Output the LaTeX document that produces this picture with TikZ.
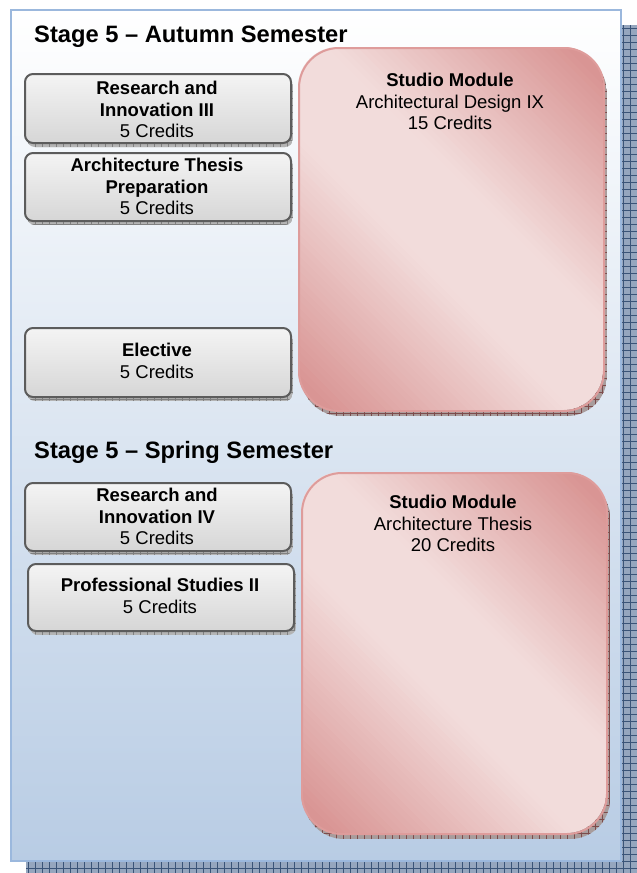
\documentclass[tikz,border=0pt]{standalone}
\usepackage{fontspec}
\setmainfont{Liberation Sans}

\definecolor{panelline}{HTML}{9BB8DD}
\definecolor{panelbot}{HTML}{B8CCE4}
\definecolor{pshadefill}{HTML}{95A6BE}
\definecolor{pshadeline}{HTML}{3A5478}
\definecolor{gtop}{HTML}{F4F4F4}
\definecolor{gbot}{HTML}{D6D6D6}
\definecolor{gline}{HTML}{5C5C5C}
\definecolor{gshadefill}{HTML}{B4B4B4}
\definecolor{gshadeline}{HTML}{808080}
\definecolor{rdark}{HTML}{D99594}
\definecolor{rlight}{HTML}{F2DCDB}
\definecolor{rline}{HTML}{DE9C9B}
\definecolor{rshadefill}{HTML}{A89C9C}
\definecolor{rshadeline}{HTML}{7C4B4B}

% hatched drop shadow: #1-#4 corners, #5 radius, #6 fill, #7 grid colour
\newcommand{\gridshade}[7]{%
  \begin{scope}
    \clip[rounded corners=#5] (#1,#2) rectangle (#3,#4);
    \fill[#6] (#1,#2) rectangle (#3,#4);
    \draw[#7, line width=0.6pt, step=7pt] (#1,#2) grid (#3,#4);
  \end{scope}}

% diagonal rose fill: dark bottom-left and top-right corners, light middle band
\newcommand{\studioshade}[4]{%
  \begin{scope}
    \clip[rounded corners=40pt] (#1,#2) rectangle (#3,#4);
    \pgfmathsetmacro\shS{(#3-#1)+(#4-#2)}
    \foreach \i in {0,...,89}{
      \pgfmathsetmacro\shA{\i/90*\shS - 0.7}
      \pgfmathsetmacro\shB{(\i+1)/90*\shS + 0.7}
      \pgfmathsetmacro\shT{(\i+0.5)/90}
      \pgfmathsetmacro\shU{min(1,max(0,min(\shT,1-\shT)-0.05)/0.36)}
      \pgfmathsetmacro\shP{100*\shU}
      \fill[rlight!\shP!rdark]
        ({#1+\shA-800},{#4-800}) -- ({#1+\shA+800},{#4+800}) --
        ({#1+\shB+800},{#4+800}) -- ({#1+\shB-800},{#4-800}) -- cycle;
    }
  \end{scope}}

\tikzset{
  panel/.style={draw=panelline, line width=2pt, top color=white, bottom color=panelbot},
  stagetitle/.style={font=\fontsize{23.7}{28}\selectfont\bfseries, inner sep=0pt, anchor=base west},
  gbox/.style={draw=gline, line width=2pt, rounded corners=8pt, top color=gtop,
    bottom color=gbot, inner sep=0pt, anchor=north west},
  rbox/.style={draw=rline, line width=2pt, rounded corners=40pt, inner sep=0pt, anchor=north west},
  boxtext/.style={font=\fontsize{18.5}{21.5}\selectfont, align=center, inner sep=0pt, anchor=north},
}

\begin{document}
\begin{tikzpicture}[x=1pt, y=-1pt]
  \useasboundingbox (0,0) rectangle (637,873);

  % background panel with its shadow
  \gridshade{26}{25}{640}{876}{0pt}{pshadefill}{pshadeline}
  \node[panel, inner sep=0pt, minimum width=610pt, minimum height=851pt, anchor=north west] (panel) at (10,9) {};

  \node[stagetitle] (autumn) at (34,42) {Stage 5 – Autumn Semester};
  \node[stagetitle] (spring) at (34,458) {Stage 5 – Spring Semester};

  % shadows of the module boxes
  \gridshade{27}{78}{293}{147}{8pt}{gshadefill}{gshadeline}
  \gridshade{27}{157}{293}{225}{8pt}{gshadefill}{gshadeline}
  \gridshade{27}{332}{293}{401}{8pt}{gshadefill}{gshadeline}
  \gridshade{27}{487}{293}{555}{8pt}{gshadefill}{gshadeline}
  \gridshade{30}{568}{296}{635}{8pt}{gshadefill}{gshadeline}
  \gridshade{301}{53}{607}{416}{40pt}{rshadefill}{rshadeline}
  \gridshade{304}{478}{610}{839}{40pt}{rshadefill}{rshadeline}

  % autumn modules
  \node[gbox, minimum width=266pt, minimum height=69pt] (ri3) at (24,73) {};
  \node[boxtext] (ri3t) at (157,81) {\textbf{Research and}\\\textbf{Innovation III}\\5 Credits};
  \node[gbox, minimum width=266pt, minimum height=68pt] (atp) at (24,152) {};
  \node[boxtext] (atpt) at (157,158) {\textbf{Architecture Thesis}\\\textbf{Preparation}\\5 Credits};
  \node[gbox, minimum width=266pt, minimum height=69pt] (elec) at (24,327) {};
  \node[boxtext] (elect) at (157,343) {\textbf{Elective}\\5 Credits};
  \studioshade{298}{47}{603}{410}
  \node[rbox, minimum width=305pt, minimum height=363pt] (studio1) at (298,47) {};
  \node[boxtext] (studio1t) at (450,73) {\textbf{Studio Module}\\Architectural Design IX\\15 Credits};

  % spring modules
  \node[gbox, minimum width=266pt, minimum height=68pt] (ri4) at (24,482) {};
  \node[boxtext] (ri4t) at (157,488) {\textbf{Research and}\\\textbf{Innovation IV}\\5 Credits};
  \node[gbox, minimum width=266pt, minimum height=67pt] (ps2) at (27,563) {};
  \node[boxtext] (ps2t) at (160,578) {\textbf{Professional Studies II}\\5 Credits};
  \studioshade{301}{472}{606}{833}
  \node[rbox, minimum width=305pt, minimum height=361pt] (studio2) at (301,472) {};
  \node[boxtext] (studio2t) at (453,495) {\textbf{Studio Module}\\Architecture Thesis\\20 Credits};
\end{tikzpicture}
\end{document}
